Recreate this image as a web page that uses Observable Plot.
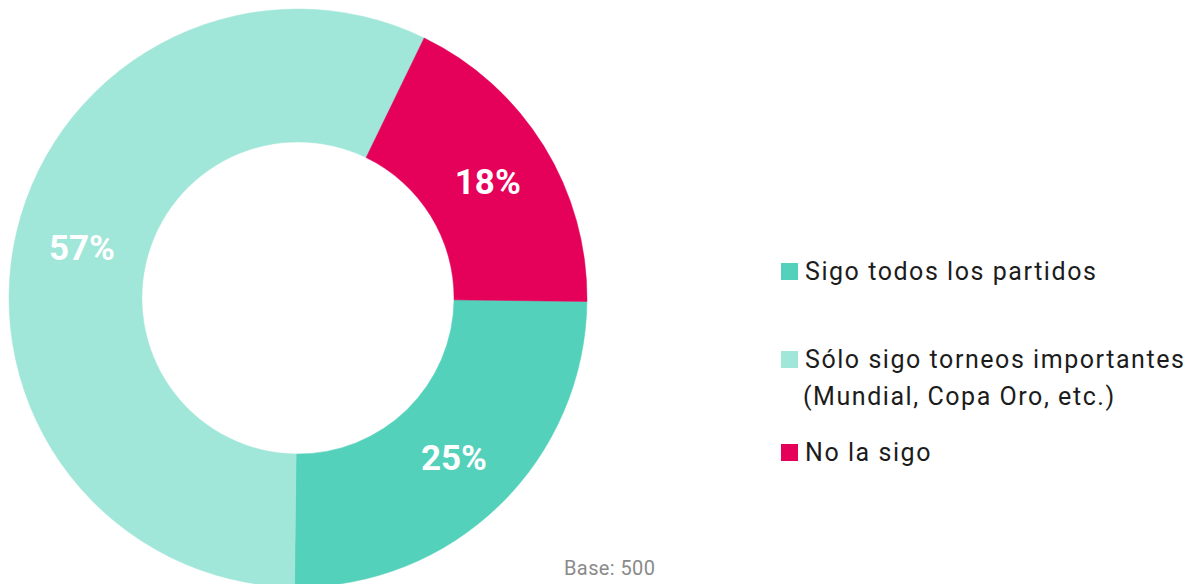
<!DOCTYPE html>
<html>
<head>
<meta charset="utf-8">
<script src="https://cdn.jsdelivr.net/npm/d3@7"></script>
<script src="https://cdn.jsdelivr.net/npm/@observablehq/plot@0.6"></script>
<style>
  html, body { margin: 0; padding: 0; background: #fff; }
  #wrap { position: relative; width: 1192px; height: 584px; overflow: hidden; font-family: Roboto, "Noto Sans", sans-serif; }
  #chart { position: absolute; left: 0; top: 0; }
  .legend { position: absolute; left: 781px; font-size: 25px; color: #1c1c1c; letter-spacing: 1.55px; line-height: 37px; }
  .legend .sw { position: absolute; left: 0; top: 10px; width: 17px; height: 17px; }
  .legend .tx { margin-left: 24px; white-space: nowrap; }
  .legend .tx2 { margin-left: 22px; white-space: nowrap; }
  #base { position: absolute; left: 564px; top: 556px; font-size: 20px; color: #8a8a8a; white-space: nowrap; letter-spacing: 0.4px; }
</style>
</head>
<body>
<div id="wrap">
  <div id="chart"></div>
  <div class="legend" style="top:253px"><div class="sw" style="background:#53D1BB"></div><div class="tx">Sigo todos los partidos</div></div>
  <div class="legend" style="top:341px"><div class="sw" style="background:#A0E6D9"></div><div class="tx">Sólo sigo torneos importantes</div><div class="tx2">(Mundial, Copa Oro, etc.)</div></div>
  <div class="legend" style="top:434px"><div class="sw" style="background:#E5005A"></div><div class="tx">No la sigo</div></div>
  <div id="base">Base: 500</div>
</div>
<script>
const categories = ["Sigo todos los partidos", "Sólo sigo torneos importantes (Mundial, Copa Oro, etc.)", "No la sigo"];
const values = [25, 57, 18];
const labels = ["25%", "57%", "18%"];
const colors = ["#53D1BB", "#A0E6D9", "#E5005A"];

const innerR = 0.54, outerR = 1;
const rotation = 0.012; // slight clockwise offset seen in the reference
const total = d3.sum(values);
let acc = 0;
const slices = values.map((v, i) => {
  // clockwise from 3 o'clock (angle measured from 12 o'clock)
  const start = Math.PI / 2 + rotation + (acc / total) * 2 * Math.PI;
  acc += v;
  const end = Math.PI / 2 + rotation + (acc / total) * 2 * Math.PI;
  const mid = (start + end) / 2;
  const rm = (innerR + outerR) / 2;
  return { category: categories[i], value: v, label: labels[i], color: colors[i], start, end,
           cx: Math.sin(mid) * rm, cy: Math.cos(mid) * rm };
});

function arcsMark(index, scales, values, dimensions) {
  const sx = scales.x, sy = scales.y;
  const cx = sx(0), cy = sy(0);
  const unit = Math.abs(sx(1) - sx(0));
  const g = d3.create("svg:g");
  const arc = d3.arc().innerRadius(innerR * unit).outerRadius(outerR * unit);
  g.selectAll("path").data(slices).join("path")
    .attr("transform", `translate(${cx},${cy})`)
    .attr("d", d => arc({ startAngle: d.start, endAngle: d.end }))
    .attr("fill", d => d.color)
    .attr("stroke", d => d.color)
    .attr("stroke-width", 0.5);
  return g.node();
}

const chart = Plot.plot({
  width: 596,
  height: 584,
  margin: 0,
  x: { domain: [-1, 1], range: [9, 587], axis: null },
  y: { domain: [-1, 1], range: [587, 9], axis: null },
  marks: [
    arcsMark,
    Plot.text(slices, { x: "cx", y: "cy", text: "label", fill: "white", fontSize: 35, fontWeight: "bold",
      fontFamily: "Roboto, sans-serif", dy: 1 })
  ]
});
document.getElementById("chart").appendChild(chart);
</script>
</body>
</html>
